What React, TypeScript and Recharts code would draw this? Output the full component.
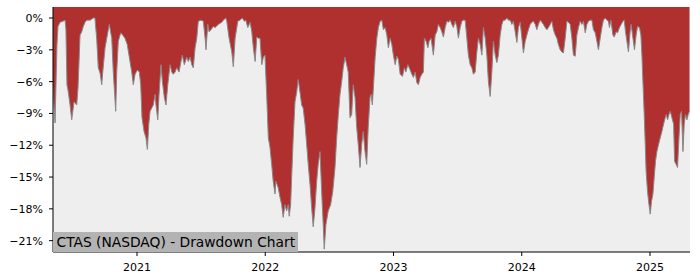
import { AreaChart, Area, XAxis, YAxis, CartesianGrid } from 'recharts';

// time as decimal years
const dates = [
    2020.345, 2020.361, 2020.376, 2020.384, 2020.400, 2020.423, 2020.439, 2020.446, 2020.454, 2020.462,
    2020.478, 2020.491, 2020.509, 2020.530, 2020.540, 2020.556, 2020.569, 2020.581, 2020.595, 2020.608,
    2020.634, 2020.659, 2020.672, 2020.686, 2020.698, 2020.712, 2020.725, 2020.733, 2020.751, 2020.764,
    2020.784, 2020.803, 2020.815, 2020.834, 2020.842, 2020.854, 2020.873, 2020.888, 2020.906, 2020.924,
    2020.940, 2020.959, 2020.971, 2020.985, 2021.003, 2021.018, 2021.029, 2021.039, 2021.055, 2021.070,
    2021.081, 2021.092, 2021.102, 2021.127, 2021.141, 2021.148, 2021.162, 2021.172, 2021.187, 2021.198,
    2021.213, 2021.226, 2021.240, 2021.258, 2021.271, 2021.283, 2021.297, 2021.310, 2021.328, 2021.343,
    2021.353, 2021.369, 2021.388, 2021.400, 2021.414, 2021.427, 2021.439, 2021.453, 2021.466, 2021.478,
    2021.499, 2021.517, 2021.531, 2021.538, 2021.552, 2021.562, 2021.577, 2021.595, 2021.609, 2021.634,
    2021.661, 2021.673, 2021.692, 2021.700, 2021.718, 2021.739, 2021.751, 2021.765, 2021.786, 2021.803,
    2021.821, 2021.837, 2021.848, 2021.864, 2021.882, 2021.895, 2021.907, 2021.921, 2021.934, 2021.946,
    2021.959, 2021.973, 2021.985, 2021.998, 2022.011, 2022.024, 2022.037, 2022.050, 2022.062, 2022.076,
    2022.083, 2022.101, 2022.115, 2022.128, 2022.140, 2022.154, 2022.167, 2022.179, 2022.187, 2022.198,
    2022.206, 2022.218, 2022.232, 2022.245, 2022.257, 2022.271, 2022.284, 2022.296, 2022.310, 2022.323,
    2022.335, 2022.349, 2022.362, 2022.374, 2022.388, 2022.401, 2022.413, 2022.427, 2022.440, 2022.452,
    2022.460, 2022.473, 2022.491, 2022.510, 2022.526, 2022.544, 2022.557, 2022.570, 2022.583, 2022.596,
    2022.608, 2022.622, 2022.635, 2022.647, 2022.661, 2022.674, 2022.686, 2022.700, 2022.713, 2022.725,
    2022.739, 2022.752, 2022.764, 2022.778, 2022.791, 2022.803, 2022.817, 2022.825, 2022.835, 2022.843,
    2022.857, 2022.870, 2022.882, 2022.896, 2022.909, 2022.921, 2022.935, 2022.948, 2022.960, 2022.974,
    2022.987, 2022.999, 2023.013, 2023.026, 2023.038, 2023.052, 2023.070, 2023.085, 2023.096, 2023.112,
    2023.130, 2023.143, 2023.155, 2023.169, 2023.182, 2023.194, 2023.208, 2023.221, 2023.233, 2023.241,
    2023.254, 2023.268, 2023.278, 2023.293, 2023.311, 2023.325, 2023.338, 2023.350, 2023.364, 2023.377,
    2023.389, 2023.403, 2023.416, 2023.428, 2023.442, 2023.455, 2023.467, 2023.481, 2023.494, 2023.506,
    2023.520, 2023.533, 2023.545, 2023.559, 2023.572, 2023.584, 2023.598, 2023.611, 2023.623, 2023.637,
    2023.650, 2023.662, 2023.676, 2023.689, 2023.701, 2023.715, 2023.728, 2023.740, 2023.754, 2023.767,
    2023.779, 2023.793, 2023.806, 2023.818, 2023.832, 2023.845, 2023.857, 2023.871, 2023.884, 2023.896,
    2023.910, 2023.923, 2023.935, 2023.949, 2023.962, 2023.974, 2023.988, 2024.001, 2024.013, 2024.027,
    2024.040, 2024.052, 2024.066, 2024.079, 2024.091, 2024.105, 2024.118, 2024.130, 2024.144, 2024.157,
    2024.169, 2024.183, 2024.196, 2024.208, 2024.222, 2024.235, 2024.247, 2024.261, 2024.274, 2024.286,
    2024.300, 2024.313, 2024.325, 2024.339, 2024.352, 2024.364, 2024.378, 2024.391, 2024.403, 2024.417,
    2024.430, 2024.442, 2024.456, 2024.469, 2024.481, 2024.495, 2024.508, 2024.520, 2024.534, 2024.547,
    2024.559, 2024.573, 2024.586, 2024.598, 2024.612, 2024.625, 2024.637, 2024.651, 2024.664, 2024.676,
    2024.684, 2024.695, 2024.711, 2024.721, 2024.736, 2024.747, 2024.762, 2024.775, 2024.789, 2024.799,
    2024.809, 2024.820, 2024.832, 2024.845, 2024.853, 2024.867, 2024.879, 2024.892, 2024.903, 2024.918,
    2024.929, 2024.937, 2024.945, 2024.955, 2024.963, 2024.970, 2024.981, 2024.992, 2025.002, 2025.012,
    2025.023, 2025.033, 2025.043, 2025.054, 2025.067, 2025.080, 2025.093, 2025.106, 2025.119, 2025.127,
    2025.137, 2025.148, 2025.158, 2025.171, 2025.184, 2025.192, 2025.203, 2025.215, 2025.226, 2025.236,
    2025.246, 2025.257, 2025.267, 2025.277, 2025.288, 2025.298, 2025.308,
];

// drawdown in %
const drawdown = [
    -6.6, -9.9, -2.5, -0.8, -0.4, -0.3, -0.2, -1.1, -6.3, -6.8,
    -8.2, -9.6, -7.9, -8.2, -6.6, -1.6, -1.3, -0.8, -0.4, -0.2,
    -0.2, 0, 0, -2.0, -4.7, -5.2, -6.3, -5.1, -2.8, -1.9,
    -0.6, -1.9, -5.1, -8.8, -5.1, -2.2, -1.4, -1.6, -1.9, -2.5,
    -3.7, -5.1, -6.3, -5.3, -4.9, -5.1, -6.3, -9.4, -10.7, -11.3,
    -12.4, -10.0, -8.8, -8.2, -7.2, -8.2, -9.6, -7.2, -4.4, -6.0,
    -7.5, -8.2, -6.3, -4.4, -5.1, -5.3, -5.1, -4.7, -5.1, -4.1,
    -3.5, -4.4, -3.7, -4.1, -3.7, -4.4, -4.7, -2.8, -1.9, -0.3,
    -0.2, -0.3, -1.9, -3.0, -0.6, -1.3, -1.1, -0.8, -0.9, -0.6,
    -0.4, -0.2, 0, -0.3, -1.9, -3.2, -4.6, -1.9, -0.3, -0.2,
    0, -0.3, -0.2, -0.9, -0.4, -1.3, -2.8, -4.1, -1.8, -1.9,
    -1.9, -4.4, -3.7, -3.5, -7.2, -11.3, -12.2, -13.8, -15.4, -16.6,
    -15.4, -16.0, -16.9, -17.6, -18.8, -17.6, -18.2, -17.6, -18.7, -17.6,
    -15.0, -11.3, -7.9, -7.0, -5.8, -7.0, -8.2, -8.5, -10.0, -11.9,
    -13.8, -15.7, -17.9, -19.7, -17.9, -15.4, -13.8, -12.6, -16.4, -19.5,
    -21.8, -19.5, -18.2, -17.6, -16.4, -14.1, -11.3, -9.1, -7.2, -6.0,
    -4.7, -3.7, -4.4, -5.1, -9.4, -9.1, -6.3, -7.5, -10.3, -11.9,
    -14.1, -11.9, -10.7, -12.6, -13.8, -10.3, -7.5, -7.2, -8.2, -6.6,
    -3.7, -1.9, -0.9, -0.3, -0.2, -1.1, -0.9, -1.6, -2.8, -1.9,
    -2.5, -3.5, -4.4, -3.6, -3.9, -5.3, -5.5, -4.7, -5.1, -4.4,
    -4.9, -5.3, -5.6, -5.1, -6.1, -6.3, -5.6, -5.3, -5.1, -1.9,
    -2.2, -2.8, -2.2, -1.9, -3.5, -1.6, -1.3, -0.6, -0.9, -1.3,
    -1.8, -0.9, -0.3, -0.4, -0.2, -0.6, -0.9, -0.3, -0.8, -1.9,
    -0.9, -0.3, -0.2, -0.2, -1.9, -3.5, -4.4, -4.7, -5.3, -5.1,
    -3.2, -1.9, -2.5, -3.5, -0.9, -1.9, -3.5, -6.0, -7.4, -5.1,
    -2.2, -3.5, -4.2, -3.5, -1.6, -0.6, -0.2, -0.2, 0, -0.2,
    -0.2, -0.6, -0.3, -1.3, -2.3, -0.9, -0.4, -1.9, -3.3, -2.2,
    -1.6, -1.1, -0.6, -0.4, -0.3, -0.6, -1.1, -0.6, -0.2, -0.4,
    -0.6, -0.9, -1.1, -0.9, -0.6, -0.3, -1.1, -1.6, -1.9, -2.5,
    -3.0, -3.2, -3.3, -1.9, -0.3, -0.4, -0.6, -1.9, -3.5, -3.6,
    -1.6, -0.9, -0.3, -0.6, -0.3, -1.4, -0.6, -0.3, -0.2, -0.2,
    -1.1, -1.4, -2.2, -3.0, -1.9, -0.9, -0.2, 0, -0.2, -0.3,
    -0.9, -0.2, -1.6, -1.8, -1.3, -1.4, -0.9, -0.6, -0.3, -0.2,
    -1.3, -2.2, -3.2, -1.3, -0.6, -1.9, -3.0, -1.6, -0.8, -0.9,
    -1.6, -3.5, -6.0, -9.1, -11.9, -14.5, -16.4, -17.6, -18.5, -17.3,
    -16.6, -15.0, -13.5, -12.6, -11.9, -11.3, -10.7, -10.0, -9.4, -9.1,
    -9.6, -9.1, -8.8, -9.4, -10.0, -13.5, -13.8, -14.1, -11.3, -9.1,
    -8.8, -12.6, -10.0, -9.1, -9.6, -9.1, -8.8,
];

const yearTicks = [2021, 2022, 2023, 2024, 2025];
const pctTicks = [0, -3, -6, -9, -12, -15, -18, -21];

const xDomain = [2020.345, 2025.312];
const yDomain = [-22.07, 1.04];

const data = dates.map((t, i) => ({ t, dd: drawdown[i] }));

const font = '"DejaVu Sans", sans-serif';
const tickStyle = { fontSize: 11, fill: '#000', fontFamily: font };

const fmtPct = (v: number) => (v < 0 ? `\u2212${Math.abs(v)}%` : `${v}%`);

export default function App() {
    return (
        <div style={{ position: 'relative', width: 700, height: 280, background: '#fff' }}>
            <style>{'body{margin:0}'}</style>
            <AreaChart width={700} height={280} data={data} margin={{ top: 7, right: 10, bottom: 0, left: 0 }}>
                <CartesianGrid fill="#eeeeee" horizontal={false} vertical={false} />
                <XAxis
                    dataKey="t"
                    type="number"
                    domain={xDomain}
                    allowDataOverflow
                    ticks={yearTicks}
                    tickFormatter={(v) => String(v)}
                    height={28}
                    tickSize={4}
                    tickMargin={7}
                    tick={tickStyle}
                    axisLine={{ stroke: '#000' }}
                    tickLine={{ stroke: '#000' }}
                />
                <XAxis
                    xAxisId="top"
                    orientation="top"
                    dataKey="t"
                    type="number"
                    domain={xDomain}
                    allowDataOverflow
                    height={0}
                    tick={false}
                    tickLine={false}
                    axisLine={{ stroke: '#000' }}
                />
                <YAxis
                    domain={yDomain}
                    allowDataOverflow
                    ticks={pctTicks}
                    tickFormatter={fmtPct}
                    width={53}
                    tickSize={4}
                    tickMargin={6}
                    tick={tickStyle}
                    axisLine={{ stroke: '#000' }}
                    tickLine={{ stroke: '#000' }}
                />
                <YAxis
                    yAxisId="right"
                    orientation="right"
                    domain={yDomain}
                    allowDataOverflow
                    width={0}
                    tick={false}
                    tickLine={false}
                    axisLine={{ stroke: '#000' }}
                />
                <Area
                    type="linear"
                    dataKey="dd"
                    baseValue="dataMax"
                    fill="#b03030"
                    fillOpacity={1}
                    stroke="#888888"
                    strokeWidth={1}
                    isAnimationActive={false}
                />
            </AreaChart>
            <div
                style={{
                    position: 'absolute',
                    left: 53,
                    top: 232,
                    height: 20,
                    lineHeight: '20px',
                    padding: '0 3px 0 3.5px',
                    background: '#b3b3b3',
                    fontFamily: font,
                    fontSize: 13.8,
                    color: '#000',
                    whiteSpace: 'nowrap',
                }}
            >
                CTAS (NASDAQ) - Drawdown Chart
            </div>
        </div>
    );
}
